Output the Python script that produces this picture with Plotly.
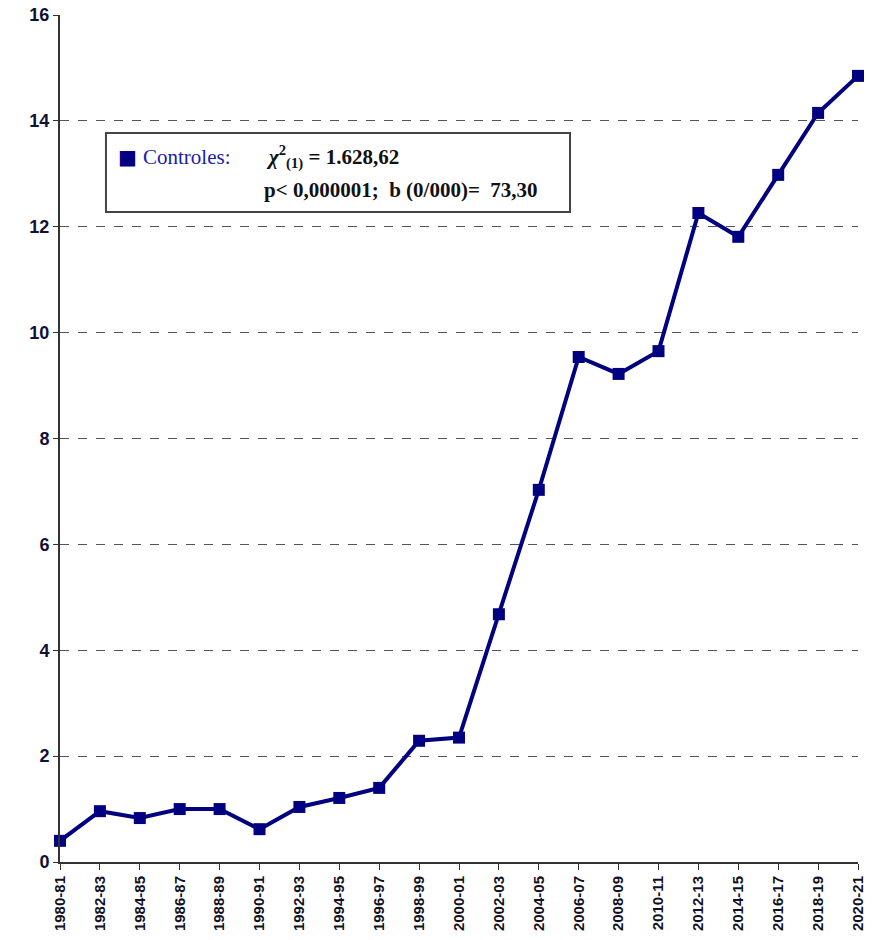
import plotly.graph_objects as go

# Biennial periods and rate values for the "Controles" series
periods = ["1980-81", "1982-83", "1984-85", "1986-87", "1988-89", "1990-91",
           "1992-93", "1994-95", "1996-97", "1998-99", "2000-01", "2002-03",
           "2004-05", "2006-07", "2008-09", "2010-11", "2012-13", "2014-15",
           "2016-17", "2018-19", "2020-21"]
controles = [0.40, 0.96, 0.83, 1.00, 1.00, 0.62, 1.04, 1.21, 1.40, 2.29, 2.35,
             4.68, 7.03, 9.54, 9.22, 9.65, 12.26, 11.81, 12.98, 14.15, 14.85]
y_ticks = [0, 2, 4, 6, 8, 10, 12, 14, 16]

NAVY = "#000080"
SERIF = "Liberation Serif, Times New Roman"

fig = go.Figure()
fig.add_trace(go.Scatter(
    x=periods, y=controles, mode="lines+markers",
    line=dict(color=NAVY, width=4),
    marker=dict(symbol="square", size=12, color=NAVY),
    cliponaxis=False, showlegend=False,
))

fig.update_layout(
    width=884, height=940,
    margin=dict(l=60, r=26, t=15, b=78, autoexpand=False),
    plot_bgcolor="white", paper_bgcolor="white",
    font=dict(family="Liberation Sans, Arial", color="#111133"),
)
fig.update_xaxes(
    type="category", range=[0, len(periods) - 1], automargin=False,
    tickangle=-90, ticks="outside", ticklen=6, tickcolor="#333333",
    tickfont=dict(family="Liberation Sans, Arial", size=15, color="#111122", weight="bold"),
    showline=True, linecolor="#333333", linewidth=2,
    showgrid=False, zeroline=False,
)
fig.update_yaxes(
    range=[0, 16], tickvals=y_ticks, ticktext=[str(v) for v in y_ticks],
    automargin=False,
    ticks="outside", ticklen=5, tickcolor="#333333",
    tickfont=dict(family="Liberation Sans, Arial", size=18, color="#111133", weight="bold"),
    showline=True, linecolor="#333333", linewidth=2,
    showgrid=True, gridcolor="#555555", griddash="dash", gridwidth=1.3,
    zeroline=False,
)

# Legend box with statistics
fig.add_shape(type="rect", xref="paper", yref="paper",
              x0=0.0576, x1=0.6391, y0=0.7674, y1=0.8607,
              line=dict(color="#444444", width=2), fillcolor="white")
fig.add_annotation(xref="paper", yref="paper", x=0.0705, y=0.8326,
                   xanchor="left", yanchor="middle", showarrow=False,
                   text="■",
                   font=dict(family="DejaVu Sans", size=20, color=NAVY))
fig.add_annotation(xref="paper", yref="paper", x=0.101, y=0.8326,
                   xanchor="left", yanchor="middle", showarrow=False,
                   text="Controles:",
                   font=dict(family=SERIF, size=21, color="#1c1ca8"))
fig.add_annotation(xref="paper", yref="paper", x=0.256, y=0.8326,
                   xanchor="left", yanchor="middle", showarrow=False,
                   text="<b><i>χ</i><sup>2</sup><sub>(1)</sub> = 1.628,62</b>",
                   font=dict(family=SERIF, size=21, color="#111111"))
fig.add_annotation(xref="paper", yref="paper", x=0.253, y=0.7935,
                   xanchor="left", yanchor="middle", showarrow=False,
                   text="<b>p&lt; 0,000001;  b (0/000)=  73,30</b>",
                   font=dict(family=SERIF, size=21, color="#111111"))

fig.write_html("out.html")
